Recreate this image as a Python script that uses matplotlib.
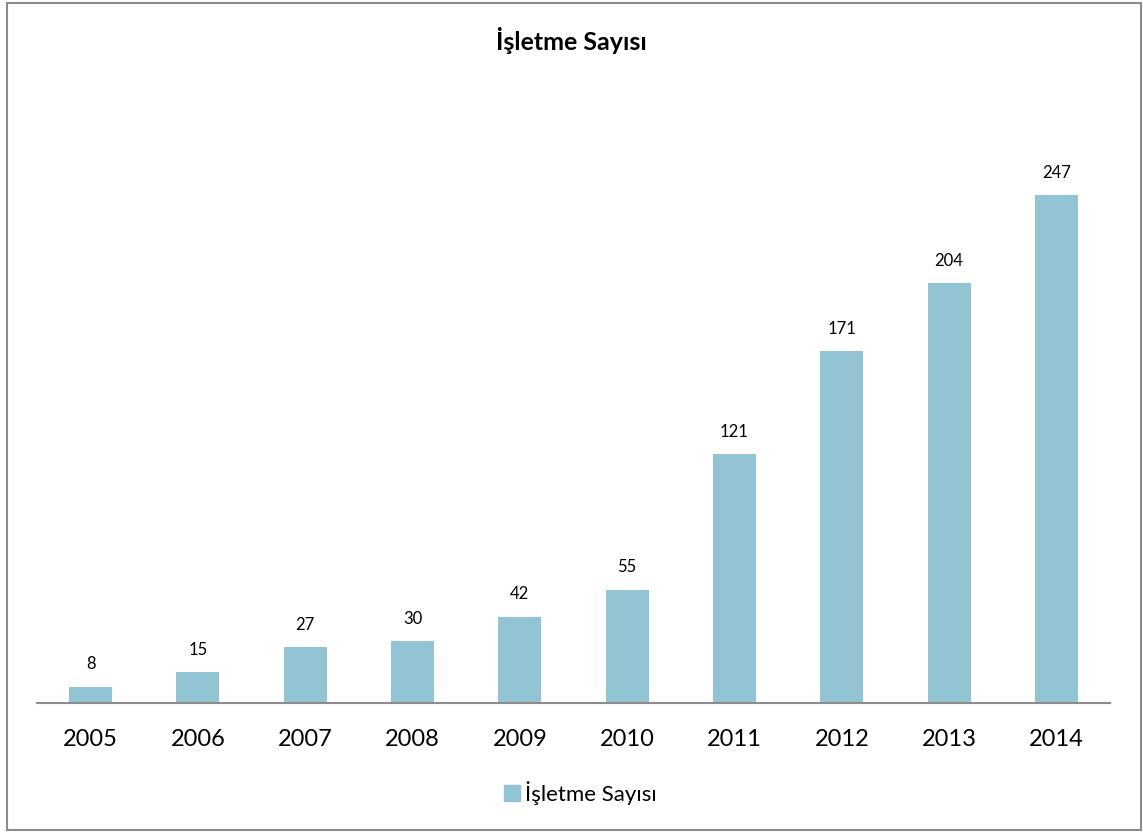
import matplotlib.pyplot as plt
from matplotlib.patches import Rectangle, Patch

years = ["2005", "2006", "2007", "2008", "2009", "2010", "2011", "2012", "2013", "2014"]
counts = [8, 15, 27, 30, 42, 55, 121, 171, 204, 247]

plt.rcParams['font.family'] = ['Lato', 'DejaVu Sans']

fig = plt.figure(figsize=(11.43, 8.33), dpi=100)
ax = fig.add_axes([37 / 1143, 130 / 833, 1073 / 1143, 617 / 833])

bar_color = "#93c4d4"
x = range(len(years))
bars = ax.bar(x, counts, width=0.4, color=bar_color)
for xi, v in zip(x, counts):
    ax.text(xi, v + 7, str(v), ha="center", va="bottom", fontsize=12, color="black")

ax.set_xlim(-0.5, len(years) - 0.5)
ax.set_ylim(0, 300)
ax.set_xticks(list(x))
ax.set_xticklabels(years, fontsize=17)
ax.tick_params(axis="x", length=0, pad=19)
ax.set_yticks([])
for s in ["top", "right", "left"]:
    ax.spines[s].set_visible(False)
ax.spines["bottom"].set_color("#8c8c8c")
ax.spines["bottom"].set_linewidth(1.5)

fig.text(0.5, 1 - 40 / 833, "İşletme Sayısı", ha="center", va="center",
         fontsize=18, fontweight="bold")

fig.legend(handles=[Patch(color=bar_color, label="İşletme Sayısı")],
           loc="center", bbox_to_anchor=(580 / 1143, 1 - 793 / 833),
           frameon=False, fontsize=16, handlelength=0.75, handleheight=0.75,
           handletextpad=0.2)

fig.patches.append(Rectangle((7 / 1143, 3 / 833), 1134 / 1143, 827 / 833,
                             transform=fig.transFigure, fill=False,
                             edgecolor="#8c8c8c", linewidth=1.5))

fig.savefig("out.png", dpi=100)
